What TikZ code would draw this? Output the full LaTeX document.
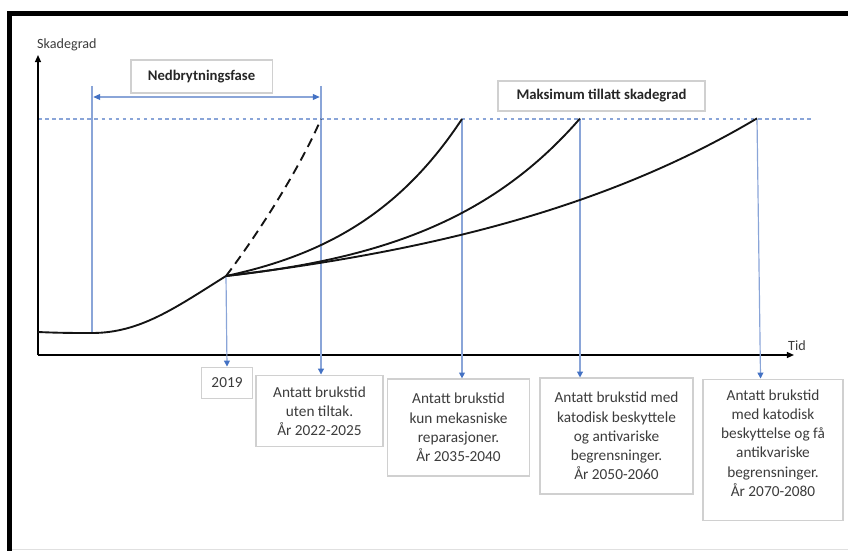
\documentclass[tikz,border=0pt]{standalone}
\usepackage{fontspec}
\setmainfont{Carlito}
\usetikzlibrary{arrows.meta}
\definecolor{guide}{HTML}{8AA5D8}
\definecolor{tipblue}{HTML}{4472C4}
\definecolor{boxline}{HTML}{D0D0D0}
\definecolor{txt}{HTML}{3C3C3C}
\begin{document}
\begin{tikzpicture}[x=0.85pt,y=-0.85pt,
  labelbox/.style={draw=boxline, line width=1pt, fill=white, text=txt,
    font=\fontsize{13}{16.3}\selectfont, align=center, inner sep=2pt},
  titlebox/.style={labelbox, font=\fontsize{12.5}{15}\selectfont\bfseries, text=black!85},
  guideline/.style={draw=guide, line width=1pt},
  pointer/.style={guideline, -{Triangle[length=5pt,width=5pt,color=tipblue]}},
  span/.style={guideline, line width=1.2pt, {Triangle[length=6pt,width=5pt,color=tipblue]}-{Triangle[length=6pt,width=5pt,color=tipblue]}},
  limit/.style={draw=guide, line width=1pt, dash pattern=on 3pt off 3pt},
  curve/.style={line width=1.6pt, black!92},
  axis/.style={line width=1.3pt, black, -{Triangle[length=6pt,width=5pt]}},
  axislabel/.style={text=txt, font=\fontsize{12}{14}\selectfont, inner sep=0pt}
]
\useasboundingbox (0,0) rectangle (848,551);

% outer frame
\draw[line width=4.5pt] (9.5,551) -- (9.5,13.5) -- (848,13.5);
\draw[black!12, line width=0.8pt] (12,549) -- (848,549);

% key points of the curves
\coordinate (O) at (38,355);
\coordinate (Ytop) at (38,55);
\coordinate (Xend) at (794,355);
\coordinate (S) at (92,333);
\coordinate (J) at (226,276);
\coordinate (N0) at (92,86);
\coordinate (N1) at (321,86);
\coordinate (T0) at (321,119);
\coordinate (T1) at (462,119);
\coordinate (T2) at (580,119);
\coordinate (T3) at (757,119);
\coordinate (L0) at (38,119);
\coordinate (L1) at (812,119);

% maximum allowed damage level
\draw[limit] (L0) -- (L1);

% axes
\draw[axis] (O) -- (Ytop);
\draw[axis] (O) -- (Xend);
\node[axislabel, anchor=west] (ylab) at (37,45) {Skadegrad};
\node[axislabel] (xlab) at (797,346) {Tid};

% labels
\node[titlebox, minimum width=120pt, minimum height=28pt] (phase) at (201.5,76.5) {Nedbrytningsfase};
\node[titlebox, minimum width=176pt, minimum height=25.5pt] (maxlvl) at (601.5,96) {Maksimum tillatt skadegrad};

\node[labelbox, minimum width=44pt, minimum height=27pt] (b0) at (227,383) {2019};
\node[labelbox, minimum width=108pt, minimum height=61pt] (b1) at (319.5,411)
  {Antatt brukstid\\uten tiltak.\\År 2022-2025};
\node[labelbox, minimum width=121pt, minimum height=82.5pt] (b2) at (458.5,427.5)
  {Antatt brukstid\\kun mekasniske\\reparasjoner.\\År 2035-2040};
\node[labelbox, minimum width=130pt, minimum height=98.5pt] (b3) at (616.5,436)
  {Antatt brukstid med\\katodisk beskyttele\\og antivariske\\begrensninger.\\År 2050-2060};
\node[labelbox, minimum width=119pt, minimum height=120.5pt, text depth=12pt] (b4) at (773,450)
  {Antatt brukstid\\med katodisk\\beskyttelse og få\\antikvariske\\begrensninger.\\År 2070-2080};

% degradation phase markers
\draw[guideline] (N0) -- (S);
\draw[pointer] (N1) -- (N1 |- b1.north);
\draw[span] ([xshift=1pt]N0 |- 0,97) -- ([xshift=-1pt]N1 |- 0,97);

% pointers to the service-life boxes
\draw[pointer] (J) -- (b0.north);
\draw[pointer] (T1) -- (T1 |- b2.north);
\draw[pointer] (T2) -- (T2 |- b3.north);
\draw[pointer] (T3) -- ([xshift=3pt]T3 |- b4.north);

% damage development
\draw[curve] (38,332) .. controls (60,333) and (75,333) .. (S)
  .. controls (140,333) and (175,308) .. (J);
\draw[curve, dash pattern=on 8pt off 5pt] (J) .. controls (255,238) and (298,172) .. (T0);
\draw[curve] plot[domain=226:462, samples=60, smooth] (\x, {276-25.78*(exp(0.0083*(\x-226))-1)});
\draw[curve] plot[domain=226:580, samples=60, smooth] (\x, {276-16.81*(exp(0.0066*(\x-226))-1)});
\draw[curve] plot[domain=226:757, samples=60, smooth] (\x, {276-40.07*(exp(0.003*(\x-226))-1)});
\end{tikzpicture}
\end{document}
